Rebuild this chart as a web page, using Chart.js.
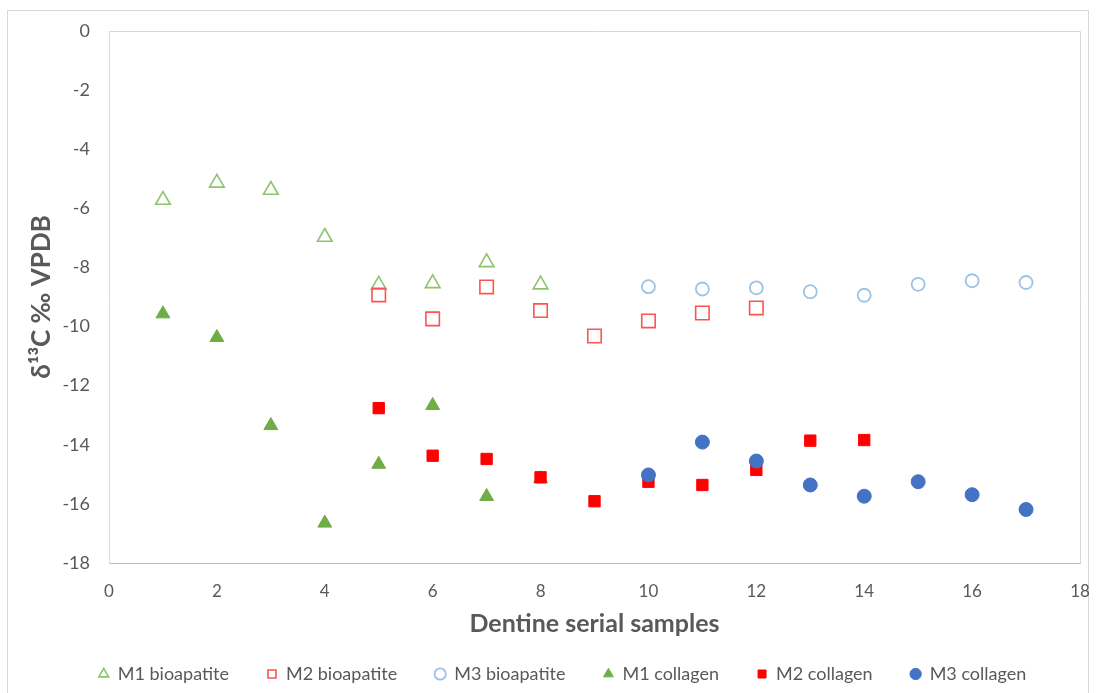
<!DOCTYPE html>
<html>
<head>
<meta charset="utf-8">
<script src="https://cdn.jsdelivr.net/npm/chart.js@4/dist/chart.umd.min.js"></script>
<style>
  html, body { margin: 0; padding: 0; background: #fff; }
  #wrap { position: relative; width: 1096px; height: 693px; }
</style>
</head>
<body>
<div id="wrap"><canvas id="chart" width="1096" height="693"></canvas></div>
<script>
// sample numbers along the dentine
const m1Samples = [1, 2, 3, 4, 5, 6, 7, 8];
const m2Samples = [5, 6, 7, 8, 9, 10, 11, 12, 13, 14];
const m3Samples = [10, 11, 12, 13, 14, 15, 16, 17];

// d13C values
const m1Bioapatite = [-5.72, -5.14, -5.38, -6.97, -8.59, -8.54, -7.83, -8.58];
const m2Bioapatite = [-8.93, -9.74, -8.66, -9.46, -10.32, -9.81, -9.54, -9.37];
const m3Bioapatite = [-8.65, -8.73, -8.69, -8.82, -8.94, -8.57, -8.45, -8.51];
const m1Collagen = [-9.57, -10.37, -13.35, -16.65, -14.66, -12.67, -15.75, -15.15];
const m2Collagen = [-12.76, -14.37, -14.48, -15.1, -15.91, -15.25, -15.36, -14.85, -13.86, -13.84];
const m3Collagen = [-15.02, -13.91, -14.55, -15.36, -15.74, -15.25, -15.69, -16.19];

const gray = "#595959";

function pts(xs, ys) {
    return ys.map((y, i) => ({ x: xs[i], y: y }));
}

// outer frame and plot area box
const frame = {
    id: "frame",
    beforeDraw(chart) {
        const ctx = chart.ctx;
        const a = chart.chartArea;
        ctx.save();
        ctx.strokeStyle = "#d9d9d9";
        ctx.lineWidth = 1;
        ctx.strokeRect(7.5, 10.5, 1081, 700);
        ctx.beginPath();
        ctx.moveTo(a.left, a.top + 0.5);
        ctx.lineTo(a.right + 0.5, a.top + 0.5);
        ctx.lineTo(a.right + 0.5, a.bottom);
        ctx.stroke();
        ctx.restore();
    }
};

// listed in reverse so collagen is drawn on top; legend reversed back
new Chart(document.getElementById("chart"), {
    type: "scatter",
    data: {
        datasets: [
            { label: "M3 collagen", data: pts(m3Samples, m3Collagen), pointStyle: "circle", pointRadius: 7,
              backgroundColor: "#4472c4", borderColor: "#4472c4", borderWidth: 1 },
            { label: "M2 collagen", data: pts(m2Samples, m2Collagen), pointStyle: "rect", pointRadius: 8,
              backgroundColor: "#ff0000", borderColor: "#ff0000", borderWidth: 1 },
            { label: "M1 collagen", data: pts(m1Samples, m1Collagen), pointStyle: "triangle", pointRadius: 8,
              backgroundColor: "#70ad47", borderColor: "#70ad47", borderWidth: 1 },
            { label: "M3 bioapatite", data: pts(m3Samples, m3Bioapatite), pointStyle: "circle", pointRadius: 6.5,
              backgroundColor: "rgba(255,255,255,0)", borderColor: "#9dc3e6", borderWidth: 1.8 },
            { label: "M2 bioapatite", data: pts(m2Samples, m2Bioapatite), pointStyle: "rect", pointRadius: 9.5,
              backgroundColor: "rgba(255,255,255,0)", borderColor: "#ff5353", borderWidth: 1.6 },
            { label: "M1 bioapatite", data: pts(m1Samples, m1Bioapatite), pointStyle: "triangle", pointRadius: 8.5,
              backgroundColor: "rgba(255,255,255,0)", borderColor: "#8ec36d", borderWidth: 1.6 }
        ]
    },
    options: {
        responsive: false,
        animation: false,
        layout: { padding: { left: 45, right: 16, top: 31, bottom: 0 } },
        plugins: {
            tooltip: { enabled: false },
            legend: {
                position: "bottom",
                reverse: true,
                labels: {
                    usePointStyle: true,
                    boxWidth: 10,
                    boxHeight: 8,
                    padding: 38,
                    color: gray,
                    font: { family: "Lato", size: 18 }
                }
            }
        },
        scales: {
            x: {
                type: "linear",
                min: 0, max: 18,
                afterFit(scale) { scale.height = 64; },
                grid: { display: false, drawTicks: true, tickLength: 18 },
                border: { color: "#bfbfbf", width: 1 },
                ticks: { stepSize: 2, padding: 0, color: gray, font: { family: "Lato", size: 17 } },
                title: { display: true, text: "Dentine serial samples", color: gray,
                         font: { family: "Lato", size: 25, weight: "bold" }, padding: { top: 0, bottom: -12 } }
            },
            y: {
                min: -18, max: 0,
                afterFit(scale) { scale.width = 64; },
                grid: { display: false, drawTicks: false },
                border: { color: "#d9d9d9", width: 1 },
                ticks: { stepSize: 2, padding: 19, color: gray, font: { family: "Lato", size: 18 } },
                title: { display: true, text: "δ¹³C ‰ VPDB", color: gray,
                         font: { family: "Lato", size: 26, weight: "bold" }, padding: { top: -19, bottom: 0 } }
            }
        }
    },
    plugins: [frame]
});
</script>
</body>
</html>
